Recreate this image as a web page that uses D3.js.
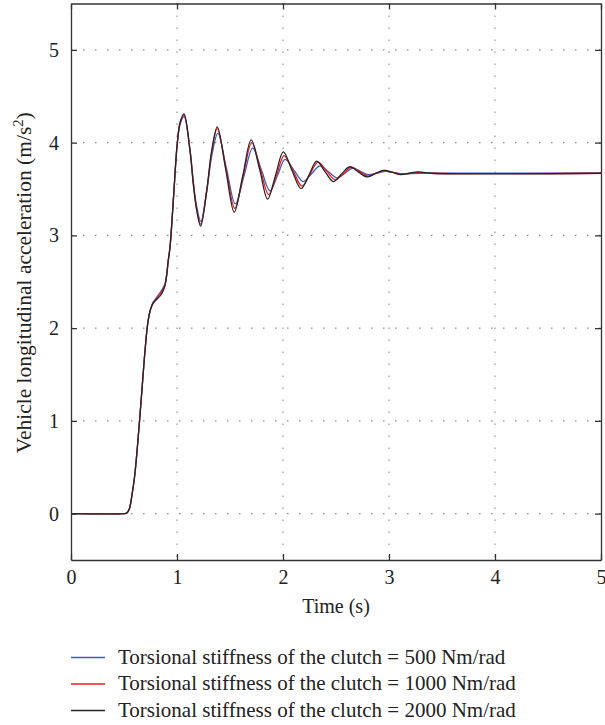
<!DOCTYPE html>
<html>
<head>
<meta charset="utf-8">
<script src="https://cdn.jsdelivr.net/npm/d3@7"></script>
<style>
  body { margin: 0; background: #fff; }
  svg text { font-family: "Liberation Serif", "DejaVu Serif", serif; fill: #222; }
</style>
</head>
<body>
<svg id="chart" width="605" height="725"></svg>
<script>
// ---- Data ----
const xTicks = [0, 1, 2, 3, 4, 5];
const yTicks = [0, 1, 2, 3, 4, 5];
const seriesNames = [
  "Torsional stiffness of the clutch = 500 Nm/rad",
  "Torsional stiffness of the clutch = 1000 Nm/rad",
  "Torsional stiffness of the clutch = 2000 Nm/rad"
];
const seriesColors = ["#3d5bc4", "#f01c1c", "#262626"];

// [time (s), acceleration (m/s^2)]
const k500 = [
  [0,0],[0.5,0],[0.525,0.005],[0.55,0.05],[0.575,0.2],[0.6,0.4],[0.625,0.7],[0.65,1.05],
  [0.675,1.42],[0.7,1.78],[0.725,2.06],[0.75,2.21],[0.775,2.28],[0.8,2.32],[0.85,2.40],
  [0.887,2.48],[0.918,2.74],[0.934,2.88],[0.965,3.37],[1.003,3.99],[1.03,4.2],[1.066,4.28],
  [1.123,3.92],[1.154,3.58],[1.186,3.31],[1.225,3.15],[1.28,3.47],[1.33,3.87],[1.385,4.10],
  [1.467,3.72],[1.55,3.34],[1.632,3.64],[1.714,3.94],[1.795,3.71],[1.877,3.48],[1.95,3.65],
  [2.02,3.82],[2.105,3.70],[2.19,3.58],[2.27,3.665],[2.35,3.75],[2.43,3.685],[2.51,3.62],
  [2.585,3.67],[2.66,3.725],[2.73,3.69],[2.80,3.655],[2.885,3.67],[2.97,3.69],[3.06,3.675],
  [3.14,3.665],[3.3,3.67],[5,3.67]
];
const k1000 = [
  [0,0],[0.5,0],[0.525,0.005],[0.55,0.05],[0.575,0.2],[0.6,0.4],[0.625,0.7],[0.65,1.05],
  [0.675,1.42],[0.7,1.78],[0.725,2.06],[0.75,2.2],[0.775,2.27],[0.8,2.31],[0.85,2.38],
  [0.887,2.47],[0.918,2.73],[0.934,2.87],[0.965,3.37],[1.003,4.0],[1.03,4.22],[1.066,4.30],
  [1.123,3.91],[1.154,3.56],[1.186,3.28],[1.223,3.12],[1.28,3.48],[1.328,3.90],[1.38,4.15],
  [1.462,3.72],[1.545,3.29],[1.625,3.645],[1.705,4.00],[1.785,3.72],[1.865,3.44],[1.94,3.65],
  [2.01,3.86],[2.095,3.695],[2.18,3.53],[2.255,3.66],[2.33,3.79],[2.41,3.695],[2.49,3.60],
  [2.57,3.665],[2.645,3.735],[2.72,3.69],[2.795,3.64],[2.88,3.67],[2.96,3.70],[3.04,3.68],
  [3.12,3.66],[3.2,3.67],[3.28,3.68],[3.4,3.67],[5,3.67]
];
const k2000 = [
  [0,0],[0.5,0],[0.525,0.005],[0.55,0.05],[0.575,0.2],[0.6,0.4],[0.625,0.7],[0.65,1.05],
  [0.675,1.42],[0.7,1.78],[0.725,2.06],[0.75,2.2],[0.775,2.27],[0.8,2.3],[0.85,2.36],
  [0.887,2.46],[0.918,2.73],[0.934,2.87],[0.965,3.37],[1.003,4.0],[1.03,4.22],[1.066,4.31],
  [1.123,3.91],[1.154,3.55],[1.186,3.27],[1.223,3.10],[1.28,3.48],[1.327,3.91],[1.38,4.17],
  [1.46,3.71],[1.54,3.25],[1.62,3.64],[1.70,4.03],[1.78,3.71],[1.855,3.39],[1.93,3.65],
  [2.003,3.90],[2.085,3.70],[2.17,3.505],[2.245,3.65],[2.318,3.80],[2.395,3.69],[2.475,3.58],
  [2.55,3.66],[2.63,3.74],[2.71,3.685],[2.79,3.63],[2.87,3.665],[2.95,3.70],[3.03,3.68],
  [3.11,3.655],[3.19,3.67],[3.27,3.685],[3.4,3.67],[5,3.67]
];
const seriesData = [k500, k1000, k2000];

// ---- Layout ----
const FONT = '"Liberation Serif", "DejaVu Serif", serif';
const svg = d3.select("#chart");
const L = 71, R = 601, T = 3.5, B = 560;
const x = d3.scaleLinear().domain([0, 5]).range([L, R]);
const y = d3.scaleLinear().domain([-0.5, 5.5]).range([B, T]);

// grid
const grid = svg.append("g").attr("stroke", "#8a8a8a").attr("stroke-width", 1.1)
  .attr("stroke-dasharray", "1.5,10.5").attr("fill", "none");
xTicks.filter(d => d > 0 && d < 5).forEach(d => {
  grid.append("line").attr("x1", x(d)).attr("x2", x(d)).attr("y1", T).attr("y2", B);
});
yTicks.forEach(d => {
  grid.append("line").attr("x1", L).attr("x2", R).attr("y1", y(d)).attr("y2", y(d));
});

// lines
const line = d3.line().x(d => x(d[0])).y(d => y(d[1])).curve(d3.curveCatmullRom.alpha(0.5));
seriesData.forEach((s, i) => {
  svg.append("path").datum(s).attr("d", line).attr("fill", "none")
    .attr("stroke", seriesColors[i]).attr("stroke-width", 1.3);
});

// axes (ticks inward, box)
const axisColor = "#333";
const xb = svg.append("g").attr("transform", `translate(0,${B})`)
  .call(d3.axisBottom(x).tickValues(xTicks).tickSize(-6).tickSizeOuter(0).tickPadding(10).tickFormat(d3.format("d")));
const xt = svg.append("g").attr("transform", `translate(0,${T})`)
  .call(d3.axisTop(x).tickValues(xTicks).tickSize(-6).tickSizeOuter(0).tickFormat(""));
const yl = svg.append("g").attr("transform", `translate(${L},0)`)
  .call(d3.axisLeft(y).tickValues(yTicks).tickSize(-6).tickSizeOuter(0).tickPadding(12).tickFormat(d3.format("d")));
const yr = svg.append("g").attr("transform", `translate(${R},0)`)
  .call(d3.axisRight(y).tickValues(yTicks).tickSize(-6).tickSizeOuter(0).tickFormat(""));
[xb, xt, yl, yr].forEach(g => {
  g.attr("font-family", FONT).attr("font-size", 20);
  g.select(".domain").attr("stroke", axisColor).attr("stroke-width", 1.3);
  g.selectAll(".tick line").attr("stroke", axisColor).attr("stroke-width", 1.3);
  g.selectAll(".tick text").attr("fill", "#222")
    .attr("font-family", FONT).attr("font-size", 20);
});

// axis labels
svg.append("text").attr("x", (L + R) / 2).attr("y", 613).attr("text-anchor", "middle")
  .attr("font-size", 20).text("Time (s)");
const yLab = svg.append("text").attr("transform", `translate(31,${(T + B) / 2 + 1}) rotate(-90)`)
  .attr("text-anchor", "middle").attr("font-size", 21.5);
yLab.append("tspan").text("Vehicle longitudinal acceleration (m/s");
yLab.append("tspan").attr("dy", -8).attr("font-size", 14.5).text("2");
yLab.append("tspan").attr("dy", 8).text(")");

// legend
const legY = [657.5, 684, 710.5];
seriesNames.forEach((n, i) => {
  svg.append("line").attr("x1", 71).attr("x2", 105).attr("y1", legY[i]).attr("y2", legY[i])
    .attr("stroke", seriesColors[i]).attr("stroke-width", 1.3);
  svg.append("text").attr("x", 118).attr("y", legY[i] + 6).attr("font-size", 21).text(n);
});
</script>
</body>
</html>
